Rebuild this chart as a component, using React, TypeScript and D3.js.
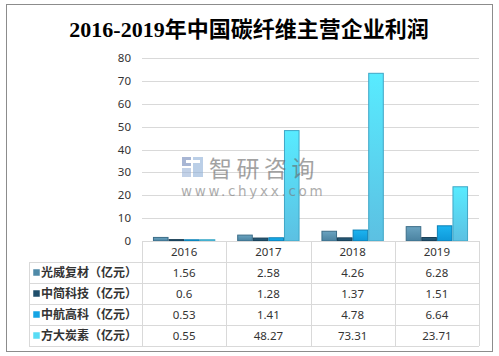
import React from "react";
import * as d3 from "d3";

const years = ["2016", "2017", "2018", "2019"];
const seriesNames = ["光威复材（亿元）", "中简科技（亿元）", "中航高科（亿元）", "方大炭素（亿元）"];
const guangwei = [1.56, 2.58, 4.26, 6.28];
const zhongjian = [0.6, 1.28, 1.37, 1.51];
const zhonghang = [0.53, 1.41, 4.78, 6.64];
const fangda = [0.55, 48.27, 73.31, 23.71];
const yTicks = [0, 10, 20, 30, 40, 50, 60, 70, 80];
const title = "2016-2019年中国碳纤维主营企业利润";

const seriesValues = [guangwei, zhongjian, zhonghang, fangda];
const palette = [
  { top: "#6aa3c0", bottom: "#4a82a0", stroke: "#3b6d88", swatch: "#4f8aa8" },
  { top: "#2b5f7e", bottom: "#1b4a66", stroke: "#163c53", swatch: "#1f4e6b" },
  { top: "#1cb4f0", bottom: "#0e98d8", stroke: "#0a7fb5", swatch: "#14a4e4" },
  { top: "#58ebff", bottom: "#5cc0e2", stroke: "#3fa6c6", swatch: "#58dcf5" },
];

export default function App() {
  const W = 499, H = 356;
  const x0 = 142, x1 = 479;
  const y = d3.scaleLinear().domain([0, 80]).range([241, 58]);
  const x = d3.scaleBand<string>().domain(years).range([x0, x1]).paddingInner(0).paddingOuter(0);
  const bw = x.bandwidth();
  const xs = d3
    .scaleBand<number>()
    .domain(d3.range(seriesValues.length))
    .range([bw * 0.13, bw * 0.87])
    .paddingInner(0);
  const tableLeft = 29;
  const rowH = 21;
  const headerTop = 241;
  const rowsTop = headerTop + rowH;
  const tableBottom = rowsTop + rowH * seriesNames.length;
  const lineColor = "#d9d9d9";
  const textColor = "#333";
  const font = "'Noto Sans', 'Noto Sans CJK SC', sans-serif";

  return (
    <svg width={W} height={H} style={{ position: "absolute", left: 0, top: 0 }}>
      <defs>
        {palette.map((p, i) => (
          <linearGradient key={i} id={`g${i}`} x1="0" y1="0" x2="0" y2="1">
            <stop offset="0%" stopColor={p.top} />
            <stop offset="100%" stopColor={p.bottom} />
          </linearGradient>
        ))}
      </defs>
      <rect x={0} y={0} width={W} height={H} fill="#fff" />
      <rect x={6.5} y={4.5} width={486} height={347} fill="#fff" stroke="#8c8c8c" strokeWidth={1} />
      <text
        x={249}
        y={37}
        textAnchor="middle"
        fontSize={22}
        fontWeight="bold"
        fontFamily="'Liberation Serif', 'Noto Sans CJK SC', serif"
        fill="#000"
      >
        {title}
      </text>

      {/* gridlines */}
      {yTicks.map((t) => (
        <g key={t}>
          {t > 0 && (
            <line x1={x0} x2={x1} y1={Math.round(y(t)) + 0.5} y2={Math.round(y(t)) + 0.5} stroke={lineColor} />
          )}
          <text
            x={131}
            y={y(t) + 4}
            textAnchor="end"
            fontSize={11.5}
            fontFamily={font}
            fill={textColor}
          >
            {t}
          </text>
        </g>
      ))}

      {/* bars */}
      {years.map((yr, j) => (
        <g key={yr} transform={`translate(${x(yr)},0)`}>
          {seriesValues.map((vals, i) => {
            const v = vals[j];
            const top = y(v);
            return (
              <rect
                key={i}
                x={(xs(i) as number) + 0.5}
                y={top}
                width={xs.bandwidth() - 1}
                height={y(0) - top}
                fill={`url(#g${i})`}
                stroke={palette[i].stroke}
                strokeWidth={1}
              />
            );
          })}
        </g>
      ))}

      {/* watermark */}
      <g opacity={0.6}>
        <rect x={182} y={157} width={9} height={9} fill="#6f86b8" />
        <rect x={182} y={168} width={9} height={9} fill="#9bb3d8" />
        <rect x={193} y={157} width={10} height={20} fill="#8fb0d8" />
        <rect x={186} y={160} width={14} height={3} fill="#fff" />
        <text x={209} y={177} fontSize={23} fontFamily="'Noto Sans CJK SC', sans-serif" fill="#666" letterSpacing={4.5}>
          智研咨询
        </text>
        <text x={181} y={196} fontSize={13.5} fontFamily="'DejaVu Sans', sans-serif" fill="#777" letterSpacing={2.7}>
          www.chyxx.com
        </text>
      </g>

      {/* table */}
      <g>
        <line x1={x0} x2={x1} y1={headerTop + 0.5} y2={headerTop + 0.5} stroke={lineColor} />
        {d3.range(seriesNames.length + 1).map((r) => (
          <line
            key={r}
            x1={tableLeft}
            x2={x1}
            y1={rowsTop + r * rowH + 0.5}
            y2={rowsTop + r * rowH + 0.5}
            stroke={lineColor}
          />
        ))}
        <line x1={tableLeft + 0.5} x2={tableLeft + 0.5} y1={rowsTop} y2={tableBottom} stroke={lineColor} />
        {years.map((yr) => (
          <line
            key={yr}
            x1={Math.round(x(yr) as number) + 0.5}
            x2={Math.round(x(yr) as number) + 0.5}
            y1={headerTop}
            y2={tableBottom}
            stroke={lineColor}
          />
        ))}
        <line x1={x1 + 0.5} x2={x1 + 0.5} y1={headerTop} y2={tableBottom} stroke={lineColor} />
        {years.map((yr) => (
          <text
            key={yr}
            x={(x(yr) as number) + bw / 2}
            y={headerTop + 15}
            textAnchor="middle"
            fontSize={11.5}
            fontFamily={font}
            fill={textColor}
          >
            {yr}
          </text>
        ))}
        {seriesNames.map((name, i) => (
          <g key={name}>
            <rect x={33} y={rowsTop + i * rowH + 7} width={7} height={7} fill={palette[i].swatch} stroke="#fff" strokeWidth={0.5} />
            <text
              x={41}
              y={rowsTop + i * rowH + 15}
              fontSize={12}
              fontWeight="bold"
              fontFamily="'Noto Sans CJK SC', sans-serif"
              fill={textColor}
            >
              {name}
            </text>
            {seriesValues[i].map((v, j) => (
              <text
                key={j}
                x={(x(years[j]) as number) + bw / 2}
                y={rowsTop + i * rowH + 15}
                textAnchor="middle"
                fontSize={11.5}
                fontFamily={font}
                fill={textColor}
              >
                {String(v)}
              </text>
            ))}
          </g>
        ))}
      </g>
    </svg>
  );
}
